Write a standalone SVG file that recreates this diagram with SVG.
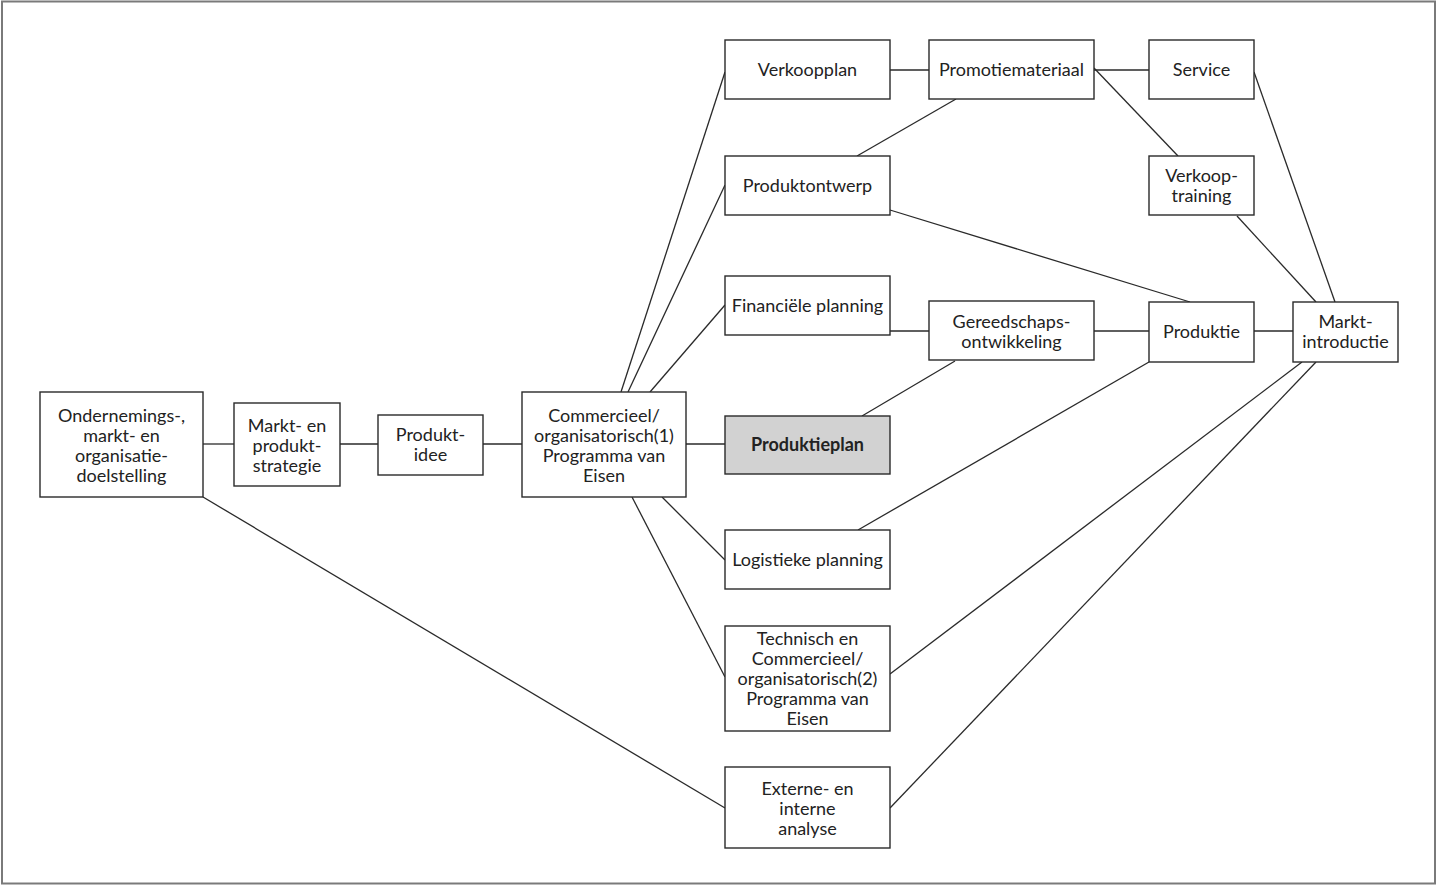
<svg xmlns="http://www.w3.org/2000/svg" width="1442" height="886" viewBox="0 0 1442 886">
<style>
.box{fill:#fff;stroke:#2a2a2a;stroke-width:1.4}
.gray{fill:#d2d2d2;stroke:#2a2a2a;stroke-width:1.4}
.t{font-family:Lato,"Open Sans",sans-serif;font-size:18px;fill:#222;text-anchor:middle}
.b{font-weight:bold}
#connectors line{stroke:#2a2a2a;stroke-width:1.3}
</style>
<rect x="0" y="0" width="1442" height="886" fill="#fff"/>
<rect x="2" y="1.5" width="1433" height="882" fill="none" stroke="#7a7a7a" stroke-width="2"/>
<g id="connectors">
<line x1="203" y1="444" x2="234" y2="444"/>
<line x1="340" y1="444" x2="378" y2="444"/>
<line x1="483" y1="444" x2="522" y2="444"/>
<line x1="686" y1="444" x2="725" y2="444"/>
<line x1="621" y1="392" x2="725" y2="72"/>
<line x1="628" y1="392" x2="725" y2="185"/>
<line x1="650" y1="392" x2="725" y2="305"/>
<line x1="662" y1="497" x2="725" y2="560"/>
<line x1="632" y1="497" x2="725" y2="677"/>
<line x1="203" y1="497" x2="725" y2="808"/>
<line x1="890" y1="70" x2="929" y2="70"/>
<line x1="1094" y1="70" x2="1149" y2="70"/>
<line x1="1094" y1="68" x2="1178" y2="156"/>
<line x1="956" y1="99" x2="857" y2="156"/>
<line x1="890" y1="210" x2="1190" y2="302"/>
<line x1="1254" y1="72" x2="1335" y2="302"/>
<line x1="1237" y1="216" x2="1316" y2="302"/>
<line x1="890" y1="331" x2="929" y2="331"/>
<line x1="1094" y1="331" x2="1149" y2="331"/>
<line x1="1254" y1="331" x2="1293" y2="331"/>
<line x1="955" y1="361" x2="862" y2="416"/>
<line x1="1149" y1="362" x2="858" y2="530"/>
<line x1="1302" y1="362" x2="890" y2="674"/>
<line x1="1316" y1="362" x2="890" y2="808"/>
</g>
<g id="n-onderneming"><rect class="box" x="40" y="392" width="163" height="105"/>
<text class="t" x="121.5" y="422">Ondernemings-,</text><text class="t" x="121.5" y="442">markt- en</text><text class="t" x="121.5" y="462">organisatie-</text><text class="t" x="121.5" y="482">doelstelling</text></g>
<g id="n-strategie"><rect class="box" x="234" y="403" width="106" height="83"/>
<text class="t" x="287" y="432">Markt- en</text><text class="t" x="287" y="452">produkt-</text><text class="t" x="287" y="472">strategie</text></g>
<g id="n-idee"><rect class="box" x="378" y="415" width="105" height="60"/>
<text class="t" x="430.5" y="441">Produkt-</text><text class="t" x="430.5" y="461">idee</text></g>
<g id="n-commercieel1"><rect class="box" x="522" y="392" width="164" height="105"/>
<text class="t" x="604" y="422">Commercieel/</text><text class="t" x="604" y="442">organisatorisch(1)</text><text class="t" x="604" y="462">Programma van</text><text class="t" x="604" y="482">Eisen</text></g>
<g id="n-produktieplan"><rect class="gray" x="725" y="416" width="165" height="58"/>
<text class="t b" x="807.5" y="451">Produktieplan</text></g>
<g id="n-verkoopplan"><rect class="box" x="725" y="40" width="165" height="59"/>
<text class="t" x="807.5" y="76">Verkoopplan</text></g>
<g id="n-promotie"><rect class="box" x="929" y="40" width="165" height="59"/>
<text class="t" x="1011.5" y="76">Promotiemateriaal</text></g>
<g id="n-service"><rect class="box" x="1149" y="40" width="105" height="59"/>
<text class="t" x="1201.5" y="76">Service</text></g>
<g id="n-produktontwerp"><rect class="box" x="725" y="156" width="165" height="59"/>
<text class="t" x="807.5" y="192">Produktontwerp</text></g>
<g id="n-verkooptraining"><rect class="box" x="1149" y="156" width="105" height="59"/>
<text class="t" x="1201.5" y="182">Verkoop-</text><text class="t" x="1201.5" y="202">training</text></g>
<g id="n-financiele"><rect class="box" x="725" y="276" width="165" height="59"/>
<text class="t" x="807.5" y="312">Financiële planning</text></g>
<g id="n-gereedschap"><rect class="box" x="929" y="301" width="165" height="59"/>
<text class="t" x="1011.5" y="328">Gereedschaps-</text><text class="t" x="1011.5" y="348">ontwikkeling</text></g>
<g id="n-produktie"><rect class="box" x="1149" y="302" width="105" height="60"/>
<text class="t" x="1201.5" y="338">Produktie</text></g>
<g id="n-marktintroductie"><rect class="box" x="1293" y="302" width="105" height="60"/>
<text class="t" x="1345.5" y="328">Markt-</text><text class="t" x="1345.5" y="348">introductie</text></g>
<g id="n-logistiek"><rect class="box" x="725" y="530" width="165" height="59"/>
<text class="t" x="807.5" y="566">Logistieke planning</text></g>
<g id="n-technisch"><rect class="box" x="725" y="626" width="165" height="105"/>
<text class="t" x="807.5" y="645">Technisch en</text><text class="t" x="807.5" y="665">Commercieel/</text><text class="t" x="807.5" y="685">organisatorisch(2)</text><text class="t" x="807.5" y="705">Programma van</text><text class="t" x="807.5" y="725">Eisen</text></g>
<g id="n-analyse"><rect class="box" x="725" y="767" width="165" height="81"/>
<text class="t" x="807.5" y="795">Externe- en</text><text class="t" x="807.5" y="815">interne</text><text class="t" x="807.5" y="835">analyse</text></g>
</svg>
